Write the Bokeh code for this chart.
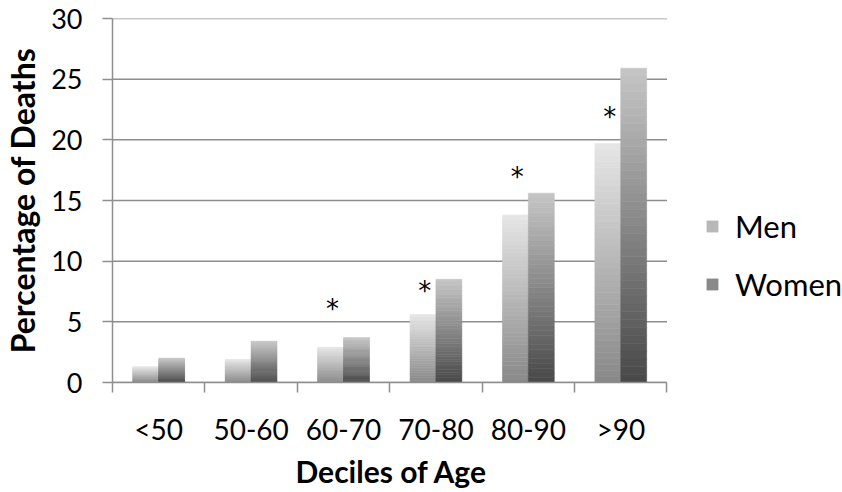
import numpy as np
from bokeh.plotting import figure
from bokeh.models import (Range1d, FixedTicker, Legend, LegendItem, ColumnDataSource, Title)
from bokeh.core.properties import value
from bokeh.embed import file_html
from bokeh.resources import INLINE

categories = ["<50", "50-60", "60-70", "70-80", "80-90", ">90"]
men = [1.3, 1.9, 2.9, 5.6, 13.8, 19.7]
women = [2.0, 3.4, 3.7, 8.5, 15.6, 25.9]
star_pos = [2, 3, 4, 5]          # category index with significance mark
star_y = [6.6, 8.1, 17.5, 22.5]
y_ticks = [0, 5, 10, 15, 20, 25, 30]
series_names = ["Men", "Women"]
x_title = "Deciles of Age"
y_title = "Percentage of Deaths"

FONT = "Lato"
GRID = "#8e8e8e"
W, H = 842, 492
LEFT, TOP, BOTTOM = 110, 18, 110
PLOT_W = 556  # pixel width occupied by the categories

ncat = len(categories)
x_end = ncat * (W - LEFT) / PLOT_W   # extra room on the right holds the legend


def hexgray(v):
    v = int(round(v))
    return "#%02x%02x%02x" % (v, v, v)


def slices(vals, offset, top_gray, bottom_gray, n=40):
    xs, bots, tops, cols = [], [], [], []
    for i, v in enumerate(vals):
        for j in range(n):
            f0 = j / n
            f1 = (j + 1) / n
            xs.append(i + 0.5 + offset)
            bots.append(v * f0)
            tops.append(v * f1)
            fm = (f0 + f1) / 2
            cols.append(hexgray(bottom_gray + (top_gray - bottom_gray) * fm))
    return ColumnDataSource(dict(x=xs, bottom=bots, top=tops, color=cols)), n


p = figure(width=W, height=H, output_backend="svg", toolbar_location=None,
           x_range=Range1d(0, x_end), y_range=Range1d(0, 30),
           min_border_left=LEFT, min_border_right=0, min_border_top=TOP,
           min_border_bottom=BOTTOM)
p.outline_line_color = None
p.background_fill_color = "white"
p.border_fill_color = "white"

# grid (drawn only across the category area)
p.xgrid.grid_line_color = None
p.ygrid.grid_line_color = None
p.segment(x0=[0] * len(y_ticks), x1=[ncat] * len(y_ticks), y0=y_ticks, y1=y_ticks,
          line_color=GRID, line_width=1.5)

bw = 0.28
src_m, n = slices(men, -0.14, 0xe6, 0x88)
src_w, _ = slices(women, 0.14, 0xc6, 0x48)
r_m = p.vbar(x="x", bottom="bottom", top="top", width=bw, source=src_m,
             fill_color="color", line_color="color", line_width=0.6)
r_w = p.vbar(x="x", bottom="bottom", top="top", width=bw, source=src_w,
             fill_color="color", line_color="color", line_width=0.6)

# significance marks
p.text(x=[c + 0.5 - 0.12 for c in star_pos], y=star_y, text=["*"] * len(star_pos),
       text_font=value("DejaVu Sans"), text_font_size="26px", text_color="black",
       text_align="center", text_baseline="middle", y_offset=7)

# x axis
xa = p.xaxis[0]
xa.bounds = (0, ncat)
xa.ticker = FixedTicker(ticks=[i + 0.5 for i in range(ncat)],
                        minor_ticks=list(range(ncat + 1)))
xa.major_label_overrides = {i + 0.5: c for i, c in enumerate(categories)}
xa.major_tick_line_color = None
xa.major_tick_out = 0
xa.minor_tick_line_color = GRID
xa.minor_tick_line_width = 1.5
xa.minor_tick_out = 10
xa.minor_tick_in = 0
xa.axis_line_color = GRID
xa.axis_line_width = 1.5
xa.major_label_text_font = FONT
xa.major_label_text_font_size = "28px"
xa.major_label_text_color = "black"
xa.major_label_standoff = 19

# x title, centred under the category area (the frame extends under the legend)
p.add_layout(Title(text=x_title, align="left", offset=183, standoff=5,
                   text_font=FONT, text_font_style="bold", text_font_size="30px",
                   text_color="black"), "below")

ya = p.yaxis[0]
ya.ticker = FixedTicker(ticks=y_ticks)
ya.major_tick_line_color = GRID
ya.major_tick_line_width = 1.5
ya.major_tick_out = 10
ya.major_tick_in = 0
ya.minor_tick_line_color = None
ya.axis_line_color = GRID
ya.axis_line_width = 1.5
ya.major_label_text_font = FONT
ya.major_label_text_font_size = "27px"
ya.major_label_text_color = "black"
ya.major_label_standoff = 20
ya.axis_label = y_title
ya.axis_label_text_font = FONT
ya.axis_label_text_font_style = "bold"
ya.axis_label_text_font_size = "32px"
ya.axis_label_text_color = "black"
ya.axis_label_standoff = 6

legend = Legend(items=[LegendItem(label=series_names[0], renderers=[r_m], index=n // 2),
                       LegendItem(label=series_names[1], renderers=[r_w], index=n // 2)],
                location=(593, 79), orientation="vertical",
                label_text_font=FONT, label_text_font_size="31px",
                label_text_color="black", glyph_width=14, glyph_height=14,
                label_standoff=16, label_height=36, spacing=20, padding=0,
                margin=0, border_line_color=None, background_fill_alpha=0)
p.add_layout(legend, "center")

open("out.html", "w").write(file_html(p, INLINE))
